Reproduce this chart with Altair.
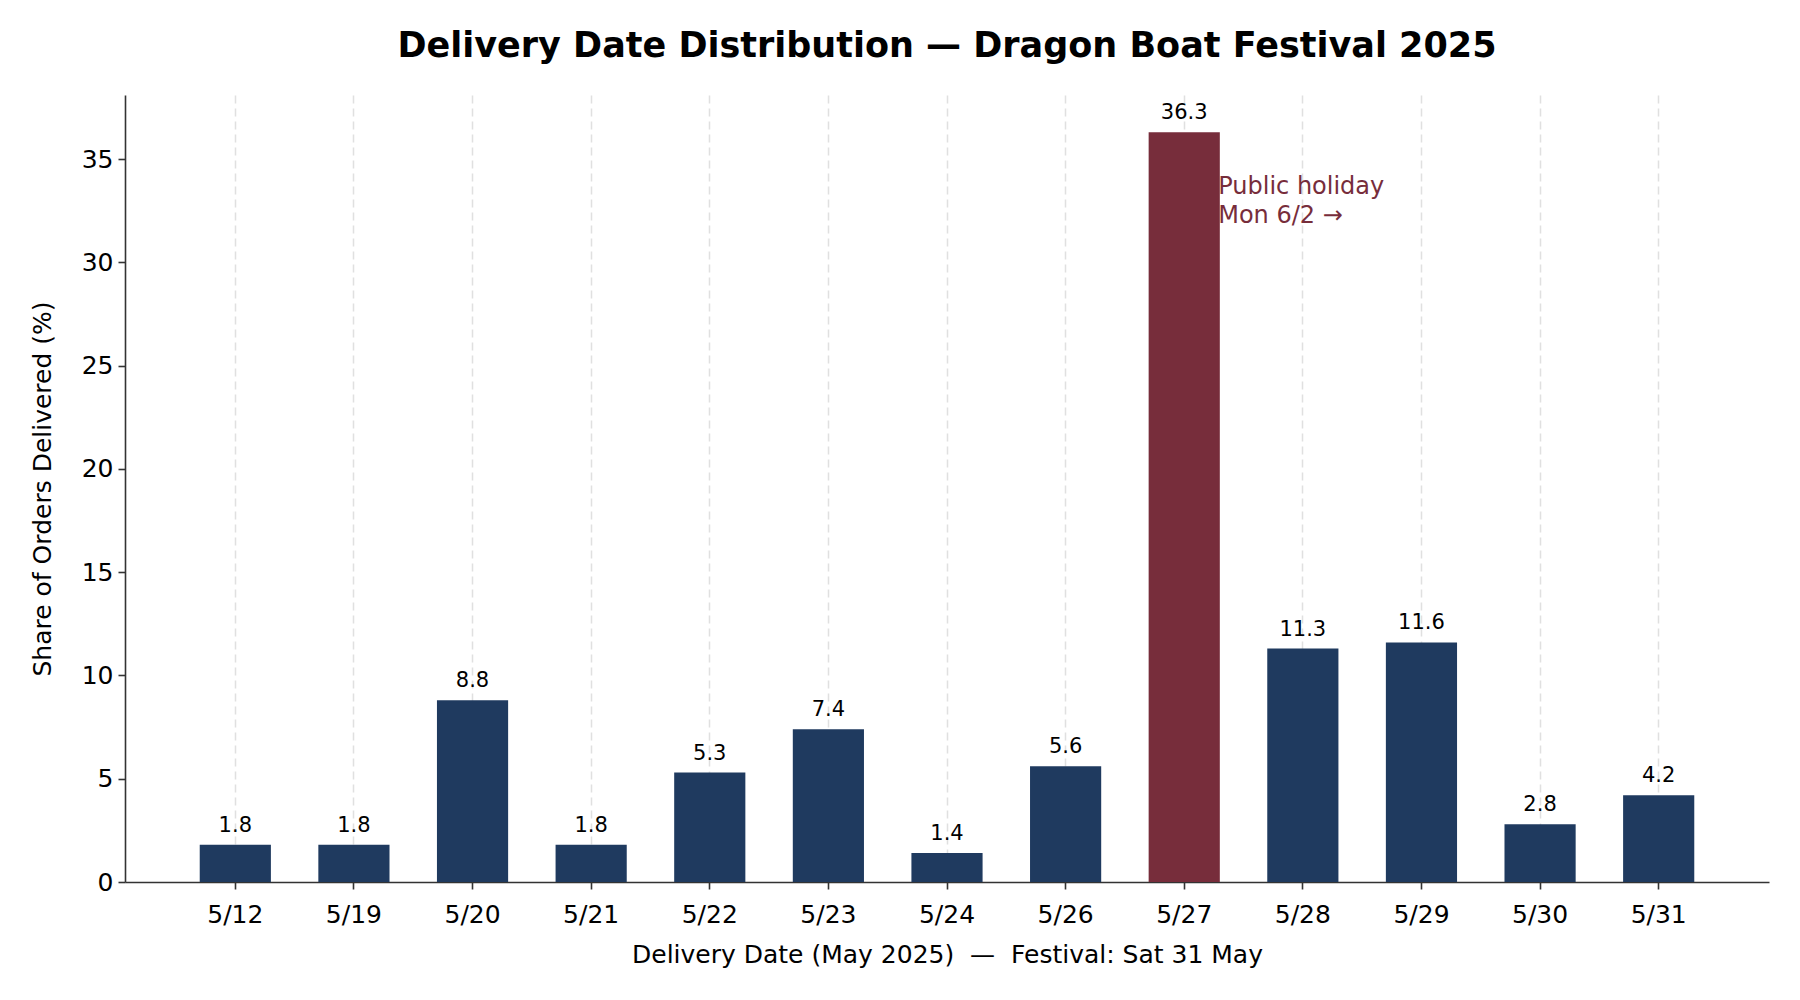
import altair as alt
import pandas as pd

dates = ["5/12", "5/19", "5/20", "5/21", "5/22", "5/23", "5/24",
         "5/26", "5/27", "5/28", "5/29", "5/30", "5/31"]
shares = [1.8, 1.8, 8.8, 1.8, 5.3, 7.4, 1.4, 5.6, 36.3, 11.3, 11.6, 2.8, 4.2]
highlight_date = "5/27"
note_lines = ["Public holiday", "Mon 6/2 \u2192"]
note_y = [33]
y_ticks = [0, 5, 10, 15, 20, 25, 30, 35]

FONT = "DejaVu Sans"
NAVY = "#1F3A5F"
MAROON = "#772D3B"

df = pd.DataFrame({"date": dates, "share": shares})
df["kind"] = ["holiday" if d == highlight_date else "normal" for d in dates]
note_df = pd.DataFrame({"date": [highlight_date], "y": note_y})

x_enc = alt.X(
    "date:N", sort=dates,
    title="Delivery Date (May 2025)\u00a0\u00a0\u2014\u00a0\u00a0Festival: Sat 31 May",
    scale=alt.Scale(paddingInner=0.4, paddingOuter=0.63),
    axis=alt.Axis(labelAngle=0, bandPosition=0.5, grid=True, gridDash=[8, 5],
                  gridColor="#e0e0e0", gridWidth=1.5, tickSize=7,
                  labelPadding=13, titlePadding=15),
)
y_enc = alt.Y(
    "share:Q", title="Share of Orders Delivered (%)",
    scale=alt.Scale(domain=[0, 38.1], nice=False, zero=True),
    axis=alt.Axis(values=y_ticks, grid=False, tickSize=7, labelPadding=5,
                  titlePadding=26),
)

bars = alt.Chart(df).mark_bar().encode(
    x=x_enc, y=y_enc,
    color=alt.Color("kind:N", scale=alt.Scale(domain=["normal", "holiday"],
                                              range=[NAVY, MAROON]), legend=None),
)

labels = alt.Chart(df).mark_text(
    font=FONT, fontSize=21, baseline="alphabetic", dy=-13, color="black"
).encode(
    x=alt.X("date:N", sort=dates),
    y=alt.Y("share:Q"),
    text=alt.Text("share:Q", format=".1f"),
)

note = alt.Chart(note_df).mark_text(
    font=FONT, fontSize=24, lineHeight=29, align="left", baseline="middle",
    dx=34, dy=-13, color=MAROON, text=note_lines,
).encode(
    x=alt.X("date:N", sort=dates),
    y=alt.Y("y:Q"),
)

chart = alt.layer(bars, labels, note).properties(
    width=1644, height=787,
    title=alt.Title("Delivery Date Distribution \u2014 Dragon Boat Festival 2025",
                    font=FONT, fontSize=35, fontWeight="bold", color="black",
                    anchor="middle", offset=31),
    padding={"left": 22, "top": 21, "right": 10, "bottom": 10},
).configure_view(stroke=None).configure_axis(
    labelFont=FONT, titleFont=FONT, labelFontSize=25, titleFontSize=25,
    titleFontWeight="normal", labelColor="black", titleColor="black",
    domainColor="#333333", tickColor="#333333", domainWidth=1.6, tickWidth=1.6,
)

chart.save("out.html", embed_options={"renderer": "svg", "actions": False})
